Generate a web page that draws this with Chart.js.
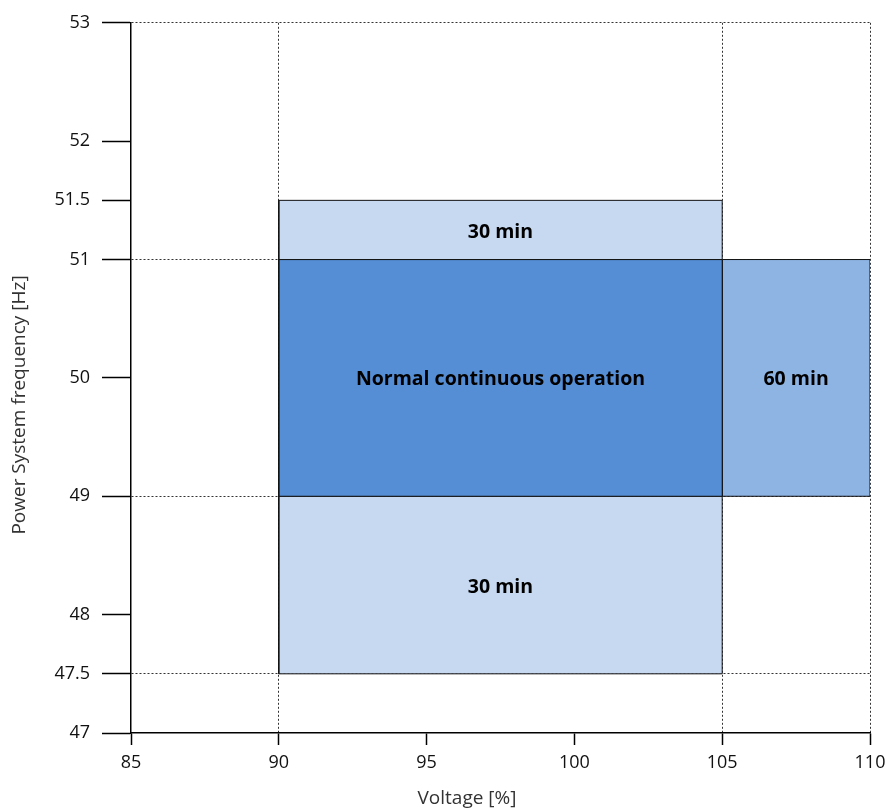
<!DOCTYPE html>
<html>
<head>
<meta charset="utf-8">
<script src="https://cdn.jsdelivr.net/npm/chart.js@4.4.0/dist/chart.umd.min.js"></script>
<style>
  html, body { margin: 0; padding: 0; background: #fff; }
  #wrap { width: 889px; height: 810px; }
</style>
</head>
<body>
<div id="wrap"><canvas id="chart"></canvas></div>
<script>
// zones: voltage range [%] x frequency range [Hz]
var zoneLabels = ["30 min", "Normal continuous operation", "60 min", "30 min"];
var zoneVoltFrom = [90, 90, 105, 90];
var zoneVoltTo = [105, 105, 110, 105];
var zoneFreqFrom = [51, 49, 49, 47.5];
var zoneFreqTo = [51.5, 51, 51, 49];
var zoneColors = ["#c6d9f1", "#558ed5", "#8eb4e3", "#c6d9f1"];

var xTicks = [85, 90, 95, 100, 105, 110];
var yTicks = [47, 47.5, 48, 49, 50, 51, 51.5, 52, 53];
var xGridAt = [90, 105, 110];
var yGridAt = [47.5, 49, 51, 53];

var xTitle = "Voltage [%]";
var yTitle = "Power System frequency [Hz]";

var fontFam = "'Open Sans', sans-serif";

var datasets = zoneLabels.map(function (lab, i) {
  return {
    label: lab,
    data: [
      { x: zoneVoltFrom[i], y: zoneFreqFrom[i] },
      { x: zoneVoltTo[i], y: zoneFreqFrom[i] },
      { x: zoneVoltTo[i], y: zoneFreqTo[i] },
      { x: zoneVoltFrom[i], y: zoneFreqTo[i] },
      { x: zoneVoltFrom[i], y: zoneFreqFrom[i] }
    ],
    showLine: true,
    fill: 'shape',
    backgroundColor: zoneColors[i],
    borderColor: "#111",
    borderWidth: 1,
    pointRadius: 0,
    tension: 0
  };
});

// zone captions + axis titles (titles sit a bit off-centre, like the original)
var zoneText = {
  id: 'zoneText',
  afterDatasetsDraw: function (chart) {
    var ctx = chart.ctx, xs = chart.scales.x, ys = chart.scales.y;
    ctx.save();
    ctx.font = "bold 19.5px " + fontFam;
    ctx.fillStyle = "#000";
    ctx.textAlign = "center";
    ctx.textBaseline = "middle";
    zoneLabels.forEach(function (lab, i) {
      var cx = xs.getPixelForValue((zoneVoltFrom[i] + zoneVoltTo[i]) / 2);
      var cy = ys.getPixelForValue((zoneFreqFrom[i] + zoneFreqTo[i]) / 2);
      ctx.fillText(lab, cx, cy + 2);
    });

    ctx.font = "19px " + fontFam;
    ctx.fillStyle = "#333";
    ctx.fillText(xTitle, 467, 799);
    ctx.translate(20, 405);
    ctx.rotate(-Math.PI / 2);
    ctx.fillText(yTitle, 0, 0);
    ctx.restore();
  }
};

new Chart(document.getElementById("chart"), {
  type: 'scatter',
  data: { datasets: datasets },
  plugins: [zoneText],
  options: {
    responsive: true,
    maintainAspectRatio: false,
    animation: false,
    layout: { padding: { top: 22, right: 19, bottom: 4, left: 10 } },
    plugins: { legend: { display: false }, tooltip: { enabled: false } },
    scales: {
      x: {
        type: 'linear',
        min: 85, max: 110,
        afterBuildTicks: function (s) { s.ticks = xTicks.map(function (v) { return { value: v }; }); },
        afterFit: function (s) { s.height = 73; s.paddingRight = 0; },
        border: { display: true, color: "#000", width: 1.5, dash: [2, 2] },
        grid: {
          color: function (c) { return xGridAt.indexOf(c.tick.value) >= 0 ? "#333" : "rgba(0,0,0,0)"; },
          tickColor: "#000",
          tickLength: 12,
          tickWidth: 1.5,
          tickBorderDash: [],
          lineWidth: 1
        },
        ticks: { color: "#111", font: { family: fontFam, size: 18 }, padding: 7, maxRotation: 0,
          callback: function (v) { return String(v); } }
      },
      y: {
        type: 'linear',
        min: 47, max: 53,
        afterBuildTicks: function (s) { s.ticks = yTicks.map(function (v) { return { value: v }; }); },
        afterFit: function (s) { s.width = 121; },
        border: { display: true, color: "#000", width: 1.5, dash: [2, 2] },
        grid: {
          color: function (c) { return yGridAt.indexOf(c.tick.value) >= 0 ? "#333" : "rgba(0,0,0,0)"; },
          tickColor: "#000",
          tickLength: 29,
          tickWidth: 1.5,
          tickBorderDash: [],
          lineWidth: 1
        },
        ticks: { color: "#111", font: { family: fontFam, size: 18 }, padding: 12,
          callback: function (v) { return String(v); } }
      }
    }
  }
});
</script>
</body>
</html>
